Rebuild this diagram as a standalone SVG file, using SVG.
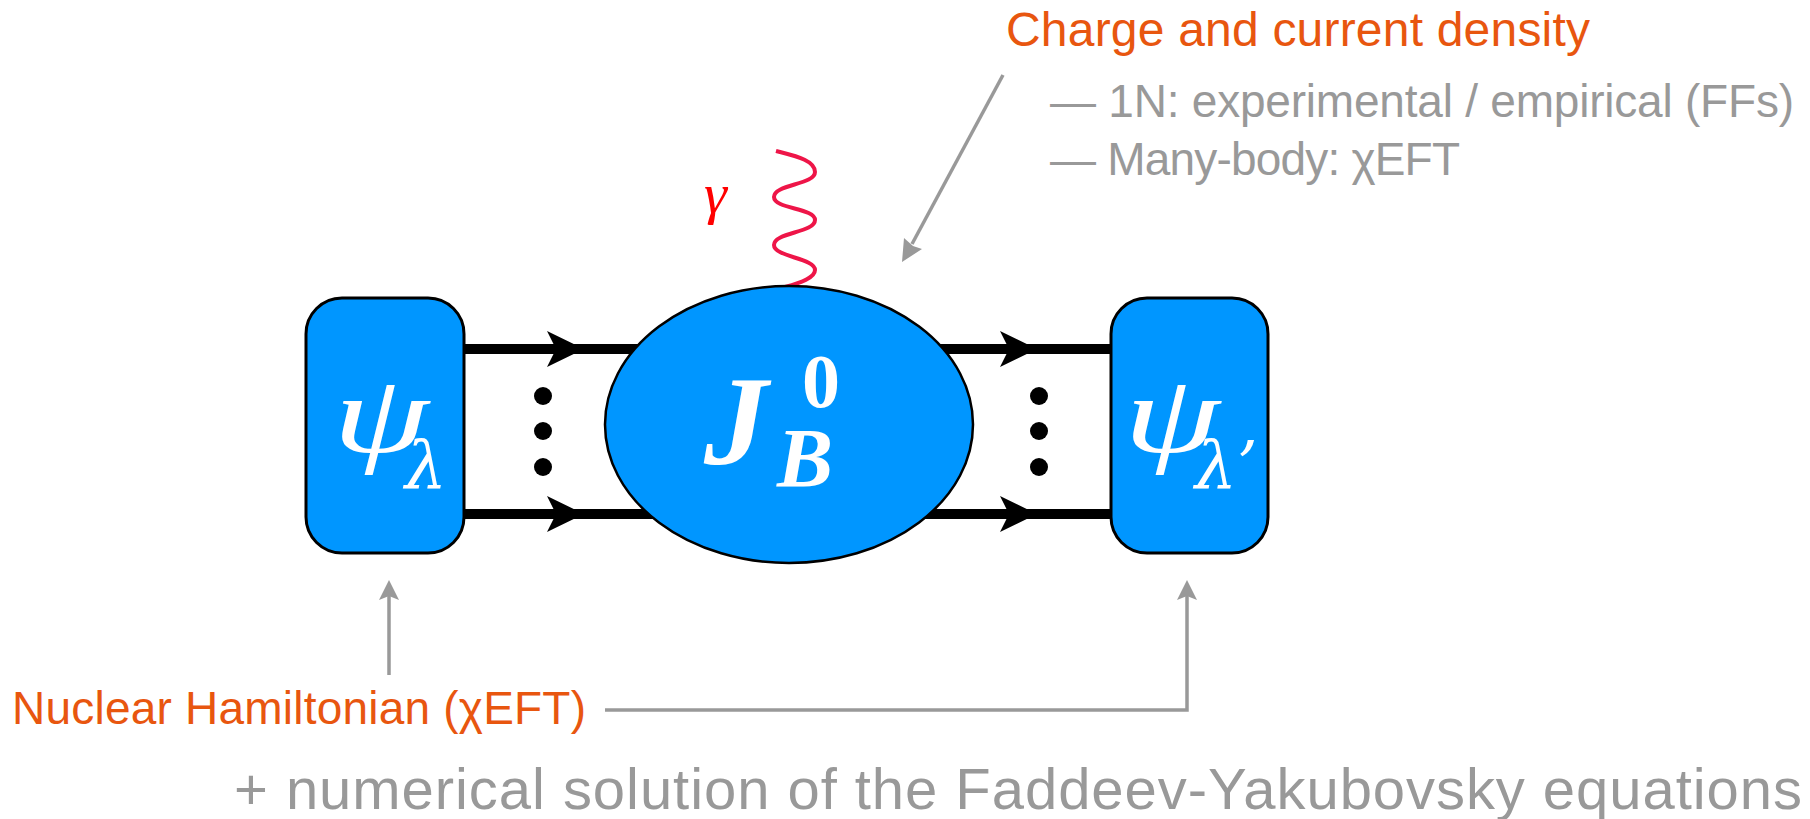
<svg xmlns="http://www.w3.org/2000/svg" width="1810" height="819" viewBox="0 0 1810 819">
<style>
.box{fill:#0096FF;stroke:#000;stroke-width:3}
.ell{fill:#0096FF;stroke:#000;stroke-width:2.5}
.line{stroke:#000;stroke-width:10;fill:none}
.ah{fill:#000}
.dot{fill:#000}
.gray{stroke:#999;stroke-width:3.5;fill:none}
.gah{fill:#999}
.psi{font-family:"Liberation Serif","Times New Roman",serif;font-style:italic;fill:#fff;font-size:110px}
.math{font-family:"DejaVu Serif","Liberation Serif",serif;font-style:italic;fill:#fff;font-size:66px}
.mathb{font-family:"Liberation Serif","Times New Roman",serif;font-weight:bold;font-style:italic;fill:#fff}
.lab{font-family:"Liberation Sans",Arial,sans-serif;font-size:46px}
.orange{fill:#E8560F}
.gtext{fill:#999}
</style>
<rect width="1810" height="819" fill="#fff"/>
<g id="connectors">
  <line class="line" x1="464" y1="349" x2="1111" y2="349"/>
  <line class="line" x1="464" y1="514" x2="1111" y2="514"/>
  <path class="ah" d="M547,331 L584,349 L547,367 L556,349 Z"/>
  <path class="ah" d="M547,496 L584,514 L547,532 L556,514 Z"/>
  <path class="ah" d="M1000,331 L1037,349 L1000,367 L1009,349 Z"/>
  <path class="ah" d="M1000,496 L1037,514 L1000,532 L1009,514 Z"/>
  <circle class="dot" cx="543" cy="396" r="9"/>
  <circle class="dot" cx="543" cy="431" r="9"/>
  <circle class="dot" cx="543" cy="467" r="9"/>
  <circle class="dot" cx="1039" cy="396" r="9"/>
  <circle class="dot" cx="1039" cy="431" r="9"/>
  <circle class="dot" cx="1039" cy="467" r="9"/>
</g>
<g id="photon">
  <path d="M776,151 C795,156 815,160 815,172 C815,185 774,184 774,197 C774,209 815,208 815,220 C815,233 774,232 774,245 C774,257 815,258 815,270 C815,278 800,283 785,287" fill="none" stroke="#EE1548" stroke-width="4"/>
  <text x="704" y="213" font-family="Liberation Serif, serif" font-style="italic" font-size="58" fill="#F00">γ</text>
</g>
<g id="node-psi-in">
  <rect class="box" x="306" y="298" width="158" height="255" rx="36" ry="36"/>
  <text class="psi" transform="translate(333,452) scale(1.4,1)">ψ</text>
  <text class="math" x="405" y="488">λ</text>
</g>
<g id="node-current">
  <ellipse class="ell" cx="789" cy="424.5" rx="184" ry="138.5"/>
  <text class="mathb" x="704" y="464" font-size="128">J<tspan dx="34" dy="-57" font-size="76" font-style="normal">0</tspan><tspan dx="-63" dy="80" font-size="84">B</tspan></text>
</g>
<g id="node-psi-out">
  <rect class="box" x="1111" y="298" width="157" height="255" rx="36" ry="36"/>
  <text class="psi" transform="translate(1124,452) scale(1.4,1)">ψ</text>
  <text class="math" x="1195" y="488">λ’</text>
</g>
<g id="annotations">
  <line class="gray" x1="1003" y1="75" x2="912" y2="244"/>
  <path class="gah" d="M902,262 L904,238 L913,246 L922,249 Z"/>
  <line class="gray" x1="389" y1="675" x2="389" y2="596"/>
  <path class="gah" d="M389,580 L399,600 L389,596 L379,600 Z"/>
  <polyline class="gray" points="605,710 1187,710 1187,596"/>
  <path class="gah" d="M1187,580 L1197,600 L1187,596 L1177,600 Z"/>
  <text class="lab orange" x="1006" y="46" style="font-size:48px" textLength="584">Charge and current density</text>
  <text class="lab gtext" x="1050" y="117" textLength="744">— 1N: experimental / empirical (FFs)</text>
  <text class="lab gtext" x="1050" y="175" textLength="410">— Many-body: χEFT</text>
  <text class="lab orange" x="12" y="724" textLength="574">Nuclear Hamiltonian (χEFT)</text>
  <text class="lab gtext" x="234" y="809" style="font-size:58px" textLength="1568">+ numerical solution of the Faddeev-Yakubovsky equations</text>
</g>
</svg>
